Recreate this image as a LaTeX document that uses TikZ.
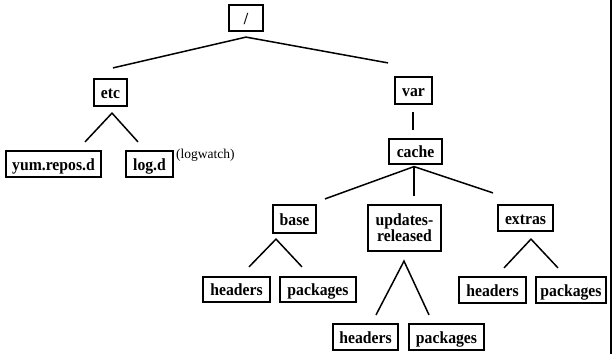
\documentclass[tikz,border=0pt]{standalone}
\usepackage{graphicx}
\usepackage{fontspec}
\setmainfont{Liberation Serif}
\newcommand{\vst}[1]{\scalebox{1}[1.08]{#1}}
\begin{document}
\begin{tikzpicture}[x=1pt,y=-1pt,
  dirbox/.style={draw, line width=2.2pt, inner sep=0pt, text height=12pt, text depth=0pt,
    font=\bfseries\fontsize{15.7}{14.5}\selectfont},
  link/.style={line width=1.5pt},
  note/.style={inner sep=0pt, font=\fontsize{13.5}{14}\selectfont}]
\useasboundingbox (0,0) rectangle (613,354);
% nodes
\node[dirbox, minimum width=34pt, minimum height=26pt] (root) at (246,18) {\vst{/}};
\node[dirbox, minimum width=33pt, minimum height=27pt] (etc) at (110.5,92.5) {\vst{etc}};
\node[dirbox, minimum width=37pt, minimum height=27pt] (var) at (413.5,90.5) {\vst{var}};
\node[dirbox, minimum width=95pt, minimum height=26pt] (yum) at (53.5,164) {\vst{yum.repos.d}};
\node[dirbox, minimum width=47pt, minimum height=26pt] (logd) at (149.5,164) {\vst{log.d}};
\node[note, anchor=base west] (logw) at (176,158) {(logwatch)};
\node[dirbox, minimum width=53pt, minimum height=25pt] (cache) at (415.5,151.5) {\vst{cache}};
\node[dirbox, minimum width=43pt, minimum height=28pt] (base) at (294.5,219) {\vst{base}};
\node[draw, line width=2.2pt, inner sep=0pt, align=center, minimum width=73pt, minimum height=46pt,
  font=\bfseries\fontsize{15.7}{14.5}\selectfont] (upd) at (404.5,228) {\vst{updates-}\\\vst{released}};
\node[dirbox, minimum width=55pt, minimum height=26pt] (extras) at (525.5,218) {\vst{extras}};
\node[dirbox, minimum width=67pt, minimum height=25pt] (bh) at (236.5,289.5) {\vst{headers}};
\node[dirbox, minimum width=76pt, minimum height=25pt] (bp) at (318,289.5) {\vst{packages}};
\node[dirbox, minimum width=65pt, minimum height=26pt] (uh) at (365.5,337) {\vst{headers}};
\node[dirbox, minimum width=75pt, minimum height=26pt] (up) at (446.5,337) {\vst{packages}};
\node[dirbox, minimum width=67pt, minimum height=26pt] (eh) at (492.5,290) {\vst{headers}};
\node[dirbox, minimum width=70pt, minimum height=26pt] (ep) at (571,290) {\vst{packages}};
% connectors
\draw[link] ([xshift=2.5pt,yshift=10pt]etc.north) -- ([yshift=-5pt]root.south) -- ([xshift=-25.5pt,yshift=13pt]var.north);
\draw[link] ([xshift=31.5pt,yshift=8pt]yum.north) -- ([xshift=1.5pt,yshift=-6pt]etc.south) -- ([xshift=-11.5pt,yshift=8pt]logd.north);
\draw[link] ([xshift=-0.5pt,yshift=-7pt]var.south) -- ([xshift=-2.5pt,yshift=8pt]cache.north);
\draw[link] ([xshift=30.5pt,yshift=5pt]base.north) -- ([xshift=-1.5pt,yshift=-1.5pt]cache.south) -- ([xshift=-32.5pt,yshift=11pt]extras.north);
\draw[link] ([xshift=-1.5pt,yshift=-1.5pt]cache.south) -- ([xshift=9.5pt,yshift=8pt]upd.north);
\draw[link] ([xshift=12.5pt,yshift=9pt]bh.north) -- ([xshift=-18.5pt,yshift=-5pt]base.south) -- ([xshift=-16pt,yshift=9pt]bp.north);
\draw[link] ([xshift=10.5pt,yshift=8pt]uh.north) -- ([xshift=-0.5pt,yshift=-9pt]upd.south) -- ([xshift=-17.5pt,yshift=8pt]up.north);
\draw[link] ([xshift=11.5pt,yshift=8pt]eh.north) -- ([xshift=5.5pt,yshift=-7pt]extras.south) -- ([xshift=-13pt,yshift=8pt]ep.north);
% right frame edge
\draw[line width=2.4pt] (611,0) -- (611,354);
\end{tikzpicture}
\end{document}
